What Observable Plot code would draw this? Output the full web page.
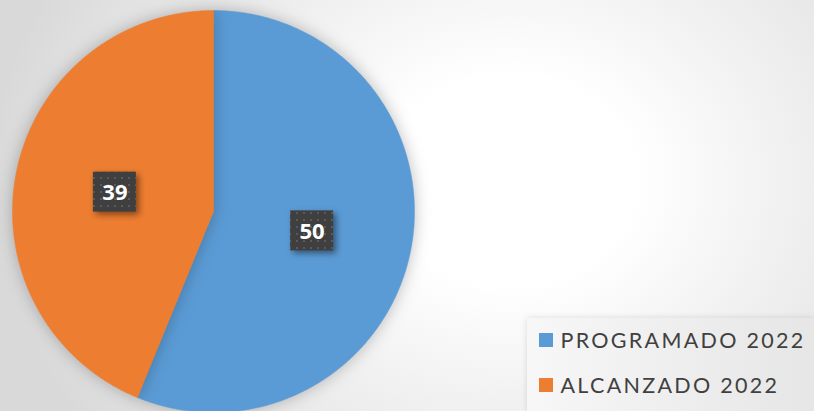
<!DOCTYPE html>
<html>
<head>
<meta charset="utf-8">
<script src="https://cdn.jsdelivr.net/npm/d3@7"></script>
<script src="https://cdn.jsdelivr.net/npm/@observablehq/plot@0.6"></script>
<style>
  html, body { margin: 0; padding: 0; }
  body {
    width: 814px; height: 411px; overflow: hidden;
    background: radial-gradient(ellipse 520px 430px at 510px 180px, #ffffff 0%, #ffffff 24%, #f2f2f2 50%, #e3e3e3 82%, #d9d9d9 100%);
  }
  #chart svg { display: block; background: transparent; }
  .legtext text { letter-spacing: 2.3px; }
</style>
</head>
<body>
<div id="chart"></div>
<script>
// ---- data ----
const categories = ["PROGRAMADO 2022", "ALCANZADO 2022"];
const values = [50, 39];
const colors = ["#5b9bd5", "#ed7d31"];

// ---- layout ----
const W = 814, H = 411;
const cx = 213, cy = 211, R = 201;

const data = categories.map((c, i) => ({category: c, value: values[i]}));
const arcs = d3.pie().sort(null).value(d => d.value)(data);

// polygon points for each slice (angle 0 = 12 o'clock, clockwise)
const slicePts = [];
arcs.forEach(a => {
  const n = Math.max(2, Math.ceil((a.endAngle - a.startAngle) / 0.01));
  slicePts.push({category: a.data.category, x: cx, y: cy});
  for (let k = 0; k <= n; k++) {
    const t = a.startAngle + (a.endAngle - a.startAngle) * k / n;
    slicePts.push({category: a.data.category, x: cx + R * Math.sin(t), y: cy - R * Math.cos(t)});
  }
  slicePts.push({category: a.data.category, x: cx, y: cy});
});

const labels = arcs.map(a => {
  const m = (a.startAngle + a.endAngle) / 2;
  return {label: String(a.data.value), x: cx + R / 2 * Math.sin(m), y: cy - R / 2 * Math.cos(m)};
});

const legendRows = categories.map((c, i) => ({category: c, x: 546, y: 340 + i * 45}));

const plot = Plot.plot({
  width: W, height: H,
  margin: 0,
  x: {domain: [0, W], range: [0, W], axis: null},
  y: {domain: [0, H], range: [0, H], axis: null},
  color: {domain: categories, range: colors},
  style: {background: "transparent", overflow: "visible"},
  marks: [
    // pie slices
    ...categories.map(c => Plot.line(slicePts.filter(d => d.category === c), {
      x: "x", y: "y", fill: colors[categories.indexOf(c)], stroke: colors[categories.indexOf(c)], strokeWidth: 0.5, curve: "linear"
    })),
    // label boxes
    Plot.rect(labels, {
      x1: d => d.x - 21.5, x2: d => d.x + 21.5, y1: d => d.y - 20, y2: d => d.y + 20,
      fill: "url(#dots)", className: "lblbox"
    }),
    Plot.text(labels, {
      x: "x", y: "y", text: "label", fill: "white", fontSize: 22, fontWeight: "bold",
      fontFamily: "Open Sans", dy: 1
    }),
    // legend box
    Plot.rect([{x1: 527, x2: 814, y1: 318, y2: 411}], {
      x1: "x1", x2: "x2", y1: "y1", y2: "y2", fill: "url(#legbg)", className: "legbox"
    }),
    Plot.rect(legendRows, {
      x1: d => d.x - 7, x2: d => d.x + 7, y1: d => d.y - 7, y2: d => d.y + 7, fill: "category"
    }),
    Plot.text(legendRows, {
      x: d => d.x + 14, y: "y", text: "category", textAnchor: "start", fill: "#404040",
      fontSize: 21.5, fontFamily: "Lato", dy: 1, className: "legtext"
    })
  ]
});

// defs: dotted pattern, legend gradient, shadows
const svg = d3.select(plot);
const defs = svg.insert("defs", ":first-child");
const pat = defs.append("pattern").attr("id", "dots").attr("patternUnits", "userSpaceOnUse")
  .attr("width", 7).attr("height", 7);
pat.append("rect").attr("width", 7).attr("height", 7).attr("fill", "#3f3f3f");
pat.append("rect").attr("x", 2).attr("y", 2).attr("width", 2).attr("height", 2).attr("fill", "#5a5a5a");
const lg = defs.append("linearGradient").attr("id", "legbg").attr("x1", 0).attr("x2", 1).attr("y1", 0).attr("y2", 0);
lg.append("stop").attr("offset", 0).attr("stop-color", "#f7f7f7");
lg.append("stop").attr("offset", 1).attr("stop-color", "#e6e6e6");

svg.selectAll("g[aria-label='line']").style("filter", "drop-shadow(0px 0px 8px rgba(0,0,0,0.25))");
svg.selectAll(".lblbox").style("filter", "drop-shadow(3px 3px 3px rgba(0,0,0,0.45))");
svg.selectAll(".legbox").style("filter", "drop-shadow(0px 0px 3px rgba(0,0,0,0.12))");

document.getElementById("chart").appendChild(plot);
</script>
</body>
</html>
